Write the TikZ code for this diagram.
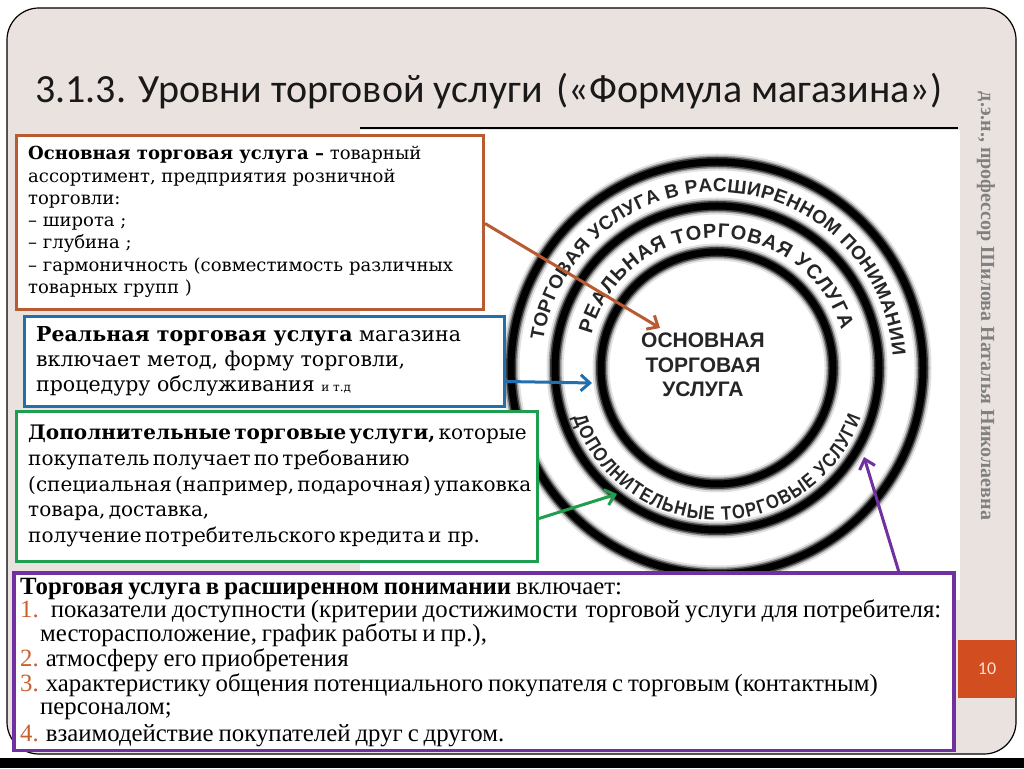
\documentclass[tikz,border=0pt]{standalone}
\usepackage{fontspec}
\setmainfont{DejaVu Serif}
\newfontfamily\titlefont{Carlito}
\newfontfamily\cfnt{Liberation Serif}
\newfontfamily\ringfont{Liberation Sans}
\newfontfamily\ringnarrow[FakeStretch=0.85]{Liberation Sans}
\newfontfamily\vertfont{Liberation Serif}
\usetikzlibrary{decorations.text, arrows.meta}
\definecolor{panel}{HTML}{EAE2DF}
\definecolor{obrd}{HTML}{B85A32}
\definecolor{bbrd}{HTML}{2070B0}
\definecolor{gbrd}{HTML}{1E9E4E}
\definecolor{pbrd}{HTML}{7030A0}
\definecolor{numc}{HTML}{C8602E}
\definecolor{pgbox}{HTML}{D24E21}
\definecolor{pgtxt}{HTML}{FDE0D0}
\newcommand\fsOr{\fontsize{18}{22}\selectfont}
\newcommand\fsBl{\fontsize{20.5}{25}\selectfont}
\newcommand\fsGr{\fontsize{20}{25}\selectfont\spaceskip=0.16em plus 0.05em\relax}
\newcommand\fsPu{\cfnt\fontsize{24.8}{24}\selectfont\spaceskip=0.2em plus 0.05em\relax}
\newcommand\nm[1]{\textcolor{numc}{#1}}
\tikzset{
  txt/.style={anchor=base west, inner sep=0pt},
  boxo/.style={draw=obrd, fill=white, line width=3pt, anchor=south west, inner sep=0pt},
  boxb/.style={draw=bbrd, fill=white, line width=3pt, anchor=south west, inner sep=0pt},
  boxg/.style={draw=gbrd, fill=white, line width=3pt, anchor=south west, inner sep=0pt},
  boxp/.style={draw=pbrd, fill=white, line width=3.5pt, anchor=south west, inner sep=0pt},
  arr/.style={line width=3pt, -{Straight Barb[length=9pt,width=16pt,line width=3pt]}},
  ringtext/.style={decorate, decoration={text along path, text align={fit to path}, text color=black!85}},
}
\begin{document}
\begin{tikzpicture}[x=1pt,y=1pt]
\useasboundingbox (0,0) rectangle (1024,768);
\fill[white] (0,0) rectangle (1024,768);
\fill[black] (0,0) rectangle (1024,10);
\draw[fill=panel, line width=1.2pt, rounded corners=32pt] (7,14) rectangle (1016,760);
% picture area
\fill[white] (360,168) rectangle (960,638);
\draw[line width=2pt] (360,640) -- (958,640);

% title
\node[txt, font=\titlefont\fontsize{40}{40}\selectfont, text=black!90] (title) at (35,665) {3.1.3. Уровни торговой услуги\hspace{14pt}(«Формула магазина»)};

% author
\node[rotate=-90, text=black!50, font=\vertfont\bfseries\fontsize{20}{20}\selectfont] (author) at (986,462) {д.э.н., профессор Шилова Наталья Николаевна};

% page number
\node[fill=pgbox, minimum width=58pt, minimum height=58pt, inner sep=0pt, text=pgtxt, font=\titlefont\fontsize{18}{18}\selectfont] (pgno) at (987,99) {10};

% rings
\coordinate (C) at (717,400);
\foreach \w/\o in {17/0.12, 13/0.3, 10/0.6, 7/1} {
  \draw[line width=\w pt, black, opacity=\o] (C) circle[radius=206];
  \draw[line width=\w pt, black, opacity=\o] (C) circle[radius=162];
  \draw[line width=\w pt, black, opacity=\o] (C) circle[radius=116];
}
\path[ringtext, decoration={text={|\ringfont\bfseries\fontsize{19}{19}\selectfont|ТОРГОВАЯ УСЛУГА В РАСШИРЕННОМ ПОНИМАНИИ}}]
  (C) ++(171:176) arc[start angle=171, end angle=4, radius=176];
\path[ringtext, decoration={text={|\ringfont\bfseries\fontsize{20}{20}\selectfont|РЕАЛЬНАЯ ТОРГОВАЯ УСЛУГА}}]
  (C) ++(165:130) arc[start angle=165, end angle=17, radius=130];
\path[ringtext, decoration={text={|\ringnarrow\bfseries\fontsize{19.5}{19.5}\selectfont|ДОПОЛНИТЕЛЬНЫЕ ТОРГОВЫЕ УСЛУГИ}}]
  (C) ++(199:152) arc[start angle=199, end angle=341, radius=152];
\node[align=center, text=black!85, font=\ringfont\bfseries\fontsize{21}{24.5}\selectfont] (core) at (703,403) {ОСНОВНАЯ\\ТОРГОВАЯ\\УСЛУГА};

% boxes
\node[boxo, minimum width=467pt, minimum height=174pt] (obox) at (15,457) {};
\node[boxb, minimum width=480pt, minimum height=90pt] (bbox) at (23,360) {};
\node[boxg, minimum width=521pt, minimum height=150pt] (gbox) at (15,205) {};
\node[boxp, minimum width=940pt, minimum height=177pt] (pbox) at (12,16) {};

% orange text
\node[txt, font=\fsOr] (o1) at (28,608) {\textbf{Основная торговая услуга –} товарный};
\node[txt, font=\fsOr] (o2) at (28,585) {ассортимент, предприятия розничной};
\node[txt, font=\fsOr] (o3) at (28,563) {торговли:};
\node[txt, font=\fsOr] (o4) at (28,541) {– широта ;};
\node[txt, font=\fsOr] (o5) at (28,519) {– глубина ;};
\node[txt, font=\fsOr] (o6) at (28,496) {– гармоничность (совместимость\hspace{6pt}различных};
\node[txt, font=\fsOr] (o7) at (28,474) {товарных групп )};

% blue text
\node[txt, font=\fsBl] (b1) at (36,426) {\textbf{Реальная торговая услуга} магазина};
\node[txt, font=\fsBl] (b2) at (36,401) {включает метод, форму торговли,};
\node[txt, font=\fsBl] (b3) at (36,376) {процедуру обслуживания {\fontsize{12}{12}\selectfont и т.д}};

% green text
\node[txt, font=\fsGr] (g1) at (28,328) {\textbf{Дополнительные торговые услуги,} которые};
\node[txt, font=\fsGr] (g2) at (28,302) {покупатель получает по требованию};
\node[txt, font=\fsGr] (g3) at (28,276) {(специальная (например, подарочная) упаковка};
\node[txt, font=\fsGr] (g4) at (28,251) {товара, доставка,};
\node[txt, font=\fsGr] (g5) at (28,225) {получение потребительского кредита и\hspace{6pt}пр.};

% purple text
\node[txt, font=\fsPu] (p1) at (20,173) {\textbf{Торговая услуга в расширенном понимании} включает:};
\node[txt, font=\fsPu] (p2) at (20,150) {\nm{1.}\hspace{12pt}показатели доступности (критерии достижимости\hspace{8pt}торговой услуги для потребителя:};
\node[txt, font=\fsPu] (p3) at (40,127) {месторасположение, график работы и пр.),};
\node[txt, font=\fsPu] (p4) at (20,102) {\nm{2.} атмосферу его приобретения};
\node[txt, font=\fsPu] (p5) at (20,77) {\nm{3.}\hspace{7pt}характеристику общения потенциального покупателя с торговым (контактным)};
\node[txt, font=\fsPu] (p6) at (40,54) {персоналом;};
\node[txt, font=\fsPu] (p7) at (20,27) {\nm{4.} взаимодействие покупателей друг с другом.};

% arrow targets
\coordinate (tO) at (660,440);
\coordinate (tB) at (592,385);
\coordinate (tG) at (617,274);
\coordinate (tP) at (864,311);
\draw[arr, draw=obrd] ([yshift=-1pt]obox.east) -- (tO);
\draw[arr, draw=bbrd] ([yshift=-20pt]bbox.east) -- (tB);
\draw[arr, draw=gbrd] ([yshift=-32pt]gbox.east) -- (tG);
\draw[arr, draw=pbrd] ([xshift=415pt]pbox.north) -- (tP);
\end{tikzpicture}
\end{document}
